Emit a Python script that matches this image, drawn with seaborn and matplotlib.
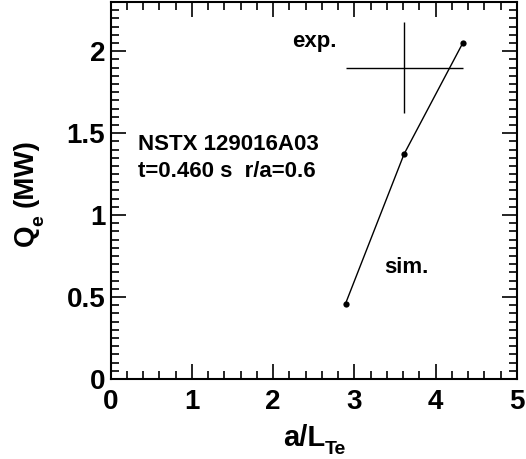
import matplotlib
matplotlib.use("Agg")
import matplotlib.pyplot as plt
from matplotlib.ticker import MultipleLocator
import seaborn as sns
import pandas as pd

# Simulated electron heat flux vs. normalized Te gradient
sim_grad = [2.89, 3.61, 4.33]
sim_qe = [0.46, 1.372, 2.047]

# Experimental value with uncertainty
exp_grad = [3.61]
exp_qe = [1.90]
exp_grad_err = [0.72]
exp_qe_err = [0.28]

x_ticks = [0, 1, 2, 3, 4, 5]
y_ticks = [0, 0.5, 1, 1.5, 2]
y_tick_labels = ["0", "0.5", "1", "1.5", "2"]

W, H = 526, 459

sns.set_theme(style="ticks")
plt.rcParams["font.family"] = ["Liberation Sans", "DejaVu Sans"]
for key in ["text.color", "axes.labelcolor", "xtick.color", "ytick.color",
            "axes.edgecolor"]:
    plt.rcParams[key] = "black"

fig = plt.figure(figsize=(W / 100, H / 100), dpi=100)
ax = fig.add_axes([110.7 / W, 1 - 379 / H, (517 - 110.7) / W, (379 - 2) / H])

df = pd.DataFrame({"grad": sim_grad, "qe": sim_qe})
sns.lineplot(data=df, x="grad", y="qe", ax=ax, color="black", linewidth=1.0,
             marker="o", markersize=4.5, markeredgewidth=0, sort=False)

ax.errorbar(exp_grad, exp_qe, xerr=exp_grad_err, yerr=exp_qe_err,
            fmt="none", ecolor="black", elinewidth=1.0, capsize=0)

note = dict(fontsize=16, fontweight="bold", va="center", ha="left")
ax.text(2.23, 2.06, "exp.", **note)
ax.text(3.37, 0.68, "sim.", **note)
ax.text(0.34, 1.43, "NSTX 129016A03", **note)
ax.text(0.34, 1.264, "t=0.460 s  r/a=0.6", **note)

ax.set_xlim(0, 5)
ax.set_ylim(0, 2.3)
ax.set_xticks(x_ticks)
ax.set_yticks(y_ticks)
ax.set_yticklabels(y_tick_labels)
ax.xaxis.set_minor_locator(MultipleLocator(0.2))
ax.yaxis.set_minor_locator(MultipleLocator(0.05))
ax.set_xlabel("")
ax.set_ylabel("")

ax.tick_params(which="both", direction="in", top=True, right=True,
               width=1.2, colors="black")
ax.tick_params(which="major", length=11, labelsize=20, pad=4)
ax.tick_params(axis="x", which="major", pad=7)
ax.tick_params(which="minor", length=5.5)
for lab in ax.get_xticklabels() + ax.get_yticklabels():
    lab.set_fontweight("bold")
for s in ax.spines.values():
    s.set_linewidth(1.5)
    s.set_visible(True)

# Axis titles with dropped subscripts
lab = dict(fontweight="bold", rotation_mode="anchor", ha="left", va="baseline")
fig.text(283 / W, 1 - 446 / H, "a/L", fontsize=21, **lab)
fig.text(325 / W, 1 - 454 / H, "Te", fontsize=14, **lab)
fig.text(33 / W, 1 - 246 / H, "Q", fontsize=20, rotation=90, **lab)
fig.text(43 / W, 1 - 226 / H, "e", fontsize=14, rotation=90, **lab)
fig.text(33 / W, 1 - 207 / H, "(MW)", fontsize=20, rotation=90, **lab)

fig.savefig("out.png", dpi=100)
